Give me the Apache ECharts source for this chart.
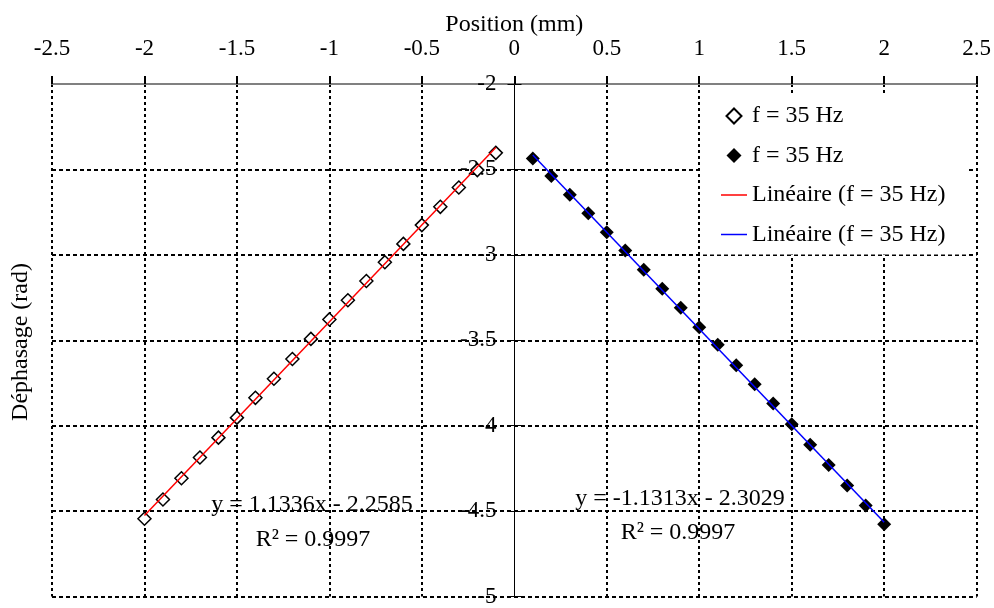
<!DOCTYPE html>
<html>
<head>
<meta charset="utf-8">
<script src="https://cdn.jsdelivr.net/npm/echarts@6/dist/echarts.min.js"></script>
<style>
html,body{margin:0;padding:0;background:#fff;}
#chart{width:994px;height:608px;}
</style>
</head>
<body>
<div id="chart"></div>
<script>
// ---- data ----
const leftX = [-2.0,-1.9,-1.8,-1.7,-1.6,-1.5,-1.4,-1.3,-1.2,-1.1,-1.0,-0.9,-0.8,-0.7,-0.6,-0.5,-0.4,-0.3,-0.2,-0.1];
const leftY = [-4.545,-4.432,-4.308,-4.186,-4.070,-3.953,-3.837,-3.725,-3.610,-3.492,-3.378,-3.266,-3.153,-3.043,-2.936,-2.826,-2.719,-2.606,-2.504,-2.403];
const rightX = [0.1,0.2,0.3,0.4,0.5,0.6,0.7,0.8,0.9,1.0,1.1,1.2,1.3,1.4,1.5,1.6,1.7,1.8,1.9,2.0];
const rightY = [-2.436,-2.539,-2.649,-2.757,-2.868,-2.975,-3.087,-3.198,-3.310,-3.424,-3.526,-3.646,-3.758,-3.870,-3.991,-4.111,-4.230,-4.350,-4.467,-4.577];
const fitSlopes = [1.1336, -1.1313];
const fitIntercepts = [-2.2585, -2.3029];
const fitR2 = ['0.9997', '0.9997'];
const seriesNames = ['f = 35 Hz', 'f = 35 Hz ', 'Linéaire (f = 35 Hz)', 'Linéaire (f = 35 Hz) '];
const xTicks = {min: -2.5, max: 2.5, step: 0.5};
const yTicks = {min: -5, max: -2, step: 0.5};

// ---- build ----
const FONT = "'Liberation Serif','Times New Roman',serif";
const FS = 24;
const FST = 23;
const W = 994, GL = 52, GR = 17;
const pairs = (xs, ys) => xs.map((x, i) => [x, ys[i]]);
function trend(xs, k) {
  const a = Math.min(...xs), b = Math.max(...xs);
  return [[a, fitSlopes[k] * a + fitIntercepts[k]], [b, fitSlopes[k] * b + fitIntercepts[k]]];
}
function eqText(k) {
  const s = fitSlopes[k], c = fitIntercepts[k];
  return 'y = ' + s.toFixed(4) + 'x ' + (c < 0 ? '- ' : '+ ') + Math.abs(c).toFixed(4);
}
const nSplit = Math.round((xTicks.max - xTicks.min) / xTicks.step) + 1;
const splitColors = [];
for (let i = 0; i < nSplit; i++) {
  const v = xTicks.min + i * xTicks.step;
  splitColors.push(Math.abs(v) < 1e-9 ? 'rgba(0,0,0,0)' : '#000');
}
// y axis drawn at x = 0 : offset from the grid's left edge
const zeroOffset = -((W - GL - GR) * (0 - xTicks.min) / (xTicks.max - xTicks.min));
const LINE_ICON = 'path://M0,0H26V1.5H0Z';
const DIAMOND_ICON = 'path://M7,0L14,7L7,14L0,7Z';

const chart = echarts.init(document.getElementById('chart'));
const option = {
  animation: false,
  backgroundColor: '#fff',
  textStyle: {fontFamily: FONT, color: '#000'},
  grid: {left: GL, right: GR, top: 84, bottom: 8, containLabel: false},
  xAxis: {
    type: 'value', position: 'top',
    min: xTicks.min, max: xTicks.max, interval: xTicks.step,
    name: 'Position (mm)', nameLocation: 'middle', nameGap: 47, nameMoveOverlap: false,
    nameTextStyle: {fontFamily: FONT, fontSize: FS, color: '#000'},
    axisLine: {show: true, onZero: false, lineStyle: {color: '#808080', width: 2}},
    axisTick: {show: true, inside: false, length: 8, lineStyle: {color: '#000', width: 2}},
    axisLabel: {fontFamily: FONT, fontSize: FST, color: '#000', margin: 24},
    splitLine: {show: true, lineStyle: {color: splitColors, width: 2, type: [3, 3]}}
  },
  yAxis: [{
    type: 'value', position: 'left', offset: zeroOffset,
    min: yTicks.min, max: yTicks.max, interval: yTicks.step,
    axisLine: {show: true, onZero: false, lineStyle: {color: '#000', width: 1}},
    axisTick: {show: true, inside: false, length: 7, lineStyle: {color: '#000', width: 1}},
    axisLabel: {fontFamily: FONT, fontSize: FST, color: '#000', margin: 18},
    splitLine: {show: true, lineStyle: {color: '#000', width: 2, type: [4, 3]}}
  }, {
    type: 'value', position: 'left', offset: zeroOffset,
    min: yTicks.min, max: yTicks.max, interval: yTicks.step,
    axisLine: {show: true, onZero: false, lineStyle: {color: '#000', width: 1}},
    axisTick: {show: true, inside: true, length: 7, lineStyle: {color: '#000', width: 1}},
    axisLabel: {show: false},
    splitLine: {show: false}
  }],
  legend: {
    orient: 'vertical', left: 700, top: 93,
    padding: [11, 21, 8, 21],
    backgroundColor: '#fff',
    itemWidth: 26, itemHeight: 15, itemGap: 15.5,
    symbolKeepAspect: true,
    selectedMode: false,
    data: [
      {name: seriesNames[0], icon: DIAMOND_ICON},
      {name: seriesNames[1], icon: DIAMOND_ICON},
      {name: seriesNames[2], icon: LINE_ICON},
      {name: seriesNames[3], icon: LINE_ICON}
    ],
    formatter: n => n.trim(),
    textStyle: {fontFamily: FONT, fontSize: FS, color: '#000', lineHeight: 22}
  },
  series: [{
    name: seriesNames[0], type: 'scatter', symbol: 'diamond', symbolSize: 13,
    itemStyle: {color: '#fff', borderColor: '#000', borderWidth: 1.5, opacity: 1},
    data: pairs(leftX, leftY), z: 2
  }, {
    name: seriesNames[1], type: 'scatter', symbol: 'diamond', symbolSize: 14,
    itemStyle: {color: '#000', borderColor: '#000', borderWidth: 0, opacity: 1},
    data: pairs(rightX, rightY), z: 2
  }, {
    name: seriesNames[2], type: 'line', symbol: 'none', showSymbol: false,
    lineStyle: {color: '#ff0000', width: 1.5}, itemStyle: {color: '#ff0000'},
    data: trend(leftX, 0), z: 3
  }, {
    name: seriesNames[3], type: 'line', symbol: 'none', showSymbol: false,
    lineStyle: {color: '#0000ff', width: 1.5}, itemStyle: {color: '#0000ff'},
    data: trend(rightX, 1), z: 3
  }],
  graphic: [
    {type: 'text', x: 21, y: 342, rotation: Math.PI / 2, z: 10,
     style: {text: 'Déphasage (rad)', font: FS + 'px ' + FONT, fill: '#000', align: 'center', verticalAlign: 'middle'}},
    {type: 'text', x: 312, y: 505, z: 10,
     style: {text: eqText(0), font: FS + 'px ' + FONT, fill: '#000', align: 'center', verticalAlign: 'middle'}},
    {type: 'text', x: 313, y: 540, z: 10,
     style: {text: 'R² = ' + fitR2[0], font: FS + 'px ' + FONT, fill: '#000', align: 'center', verticalAlign: 'middle'}},
    {type: 'text', x: 680, y: 499, z: 10,
     style: {text: eqText(1), font: FS + 'px ' + FONT, fill: '#000', align: 'center', verticalAlign: 'middle'}},
    {type: 'text', x: 678, y: 533, z: 10,
     style: {text: 'R² = ' + fitR2[1], font: FS + 'px ' + FONT, fill: '#000', align: 'center', verticalAlign: 'middle'}}
  ]
};
chart.setOption(option);
</script>
</body>
</html>
